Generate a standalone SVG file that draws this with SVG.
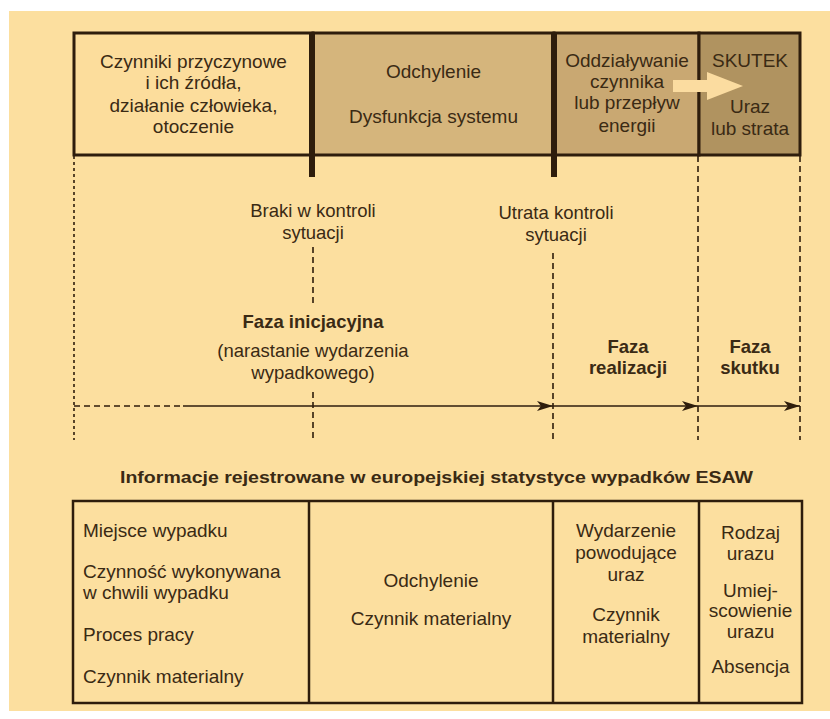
<svg xmlns="http://www.w3.org/2000/svg" width="830" height="719" viewBox="0 0 830 719">
<defs>
<style>
.t{font-family:"Liberation Sans",Arial,Helvetica,sans-serif;font-size:19px;fill:#3a2a14;text-anchor:middle}
.l{text-anchor:start}
.b{font-weight:bold;font-size:18.5px}
.box{stroke:#2e1d0c;stroke-width:3}
.dash{fill:none;stroke:#2e1d0c;stroke-width:1.6;stroke-dasharray:6 4}
.dot{fill:none;stroke:#2e1d0c;stroke-width:1.6;stroke-dasharray:3 3}
.arr{fill:none;stroke:#2e1d0c;stroke-width:1.6;marker-end:url(#ah)}
.bar{fill:#2e1d0c}
.tbl{fill:none;stroke:#2e1d0c;stroke-width:2.5}
</style>
<marker id="ah" viewBox="0 0 16 10" refX="16" refY="5" markerWidth="16" markerHeight="10" markerUnits="userSpaceOnUse" orient="auto">
<path d="M0,0 L16,5 L0,10 L4,5 z" fill="#2e1d0c"/>
</marker>
</defs>
<rect x="0" y="0" width="830" height="719" fill="#ffffff"/>
<rect x="9" y="11" width="821" height="700" fill="#fcdf9f"/>

<g id="box-przyczyny">
<rect class="box" x="74" y="33" width="239" height="122" fill="#fcdd9c"/>
<text class="t" x="193.5" y="68">Czynniki przyczynowe</text>
<text class="t" x="193.5" y="89">i ich źródła,</text>
<text class="t" x="193.5" y="112">działanie człowieka,</text>
<text class="t" x="193.5" y="133">otoczenie</text>
</g>
<g id="box-odchylenie">
<rect class="box" x="313" y="33" width="241" height="122" fill="#d5b57c"/>
<text class="t" x="433.5" y="78">Odchylenie</text>
<text class="t" x="433.5" y="123">Dysfunkcja systemu</text>
</g>
<g id="box-oddzialywanie">
<rect class="box" x="554" y="33" width="145" height="122" fill="#c9a872"/>
<text class="t" x="627" y="67">Oddziaływanie</text>
<text class="t" x="627" y="88">czynnika</text>
<text class="t" x="627" y="109">lub przepływ</text>
<text class="t" x="627" y="132">energii</text>
</g>
<g id="box-skutek">
<rect class="box" x="699" y="33" width="101" height="122" fill="#b09360"/>
<text class="t" x="750" y="67">SKUTEK</text>
<text class="t" x="750" y="113">Uraz</text>
<text class="t" x="750" y="135">lub strata</text>
</g>
<g id="big-arrow">
<path d="M673,80 L707,80 L707,72 L743,86 L707,100 L707,92 L673,92 z" fill="#fbdca0"/>
</g>
<g id="bars">
<rect class="bar" x="309" y="33" width="6" height="144"/>
<rect class="bar" x="551" y="33" width="6" height="144"/>
</g>

<g id="connectors">
<line class="dot" x1="74" y1="156" x2="74" y2="440"/>
<line class="dash" x1="313" y1="247" x2="313" y2="304"/>
<line class="dash" x1="313" y1="392" x2="313" y2="440"/>
<line class="dash" x1="553" y1="253" x2="553" y2="440"/>
<line class="dash" x1="698" y1="156" x2="698" y2="440"/>
<line class="dash" x1="800" y1="156" x2="800" y2="440"/>
<line class="dash" x1="74" y1="406" x2="183" y2="406"/>
<line class="arr" x1="183" y1="406" x2="553" y2="406"/>
<line class="arr" x1="553" y1="406" x2="698" y2="406"/>
<line class="arr" x1="698" y1="406" x2="800" y2="406"/>
</g>

<g id="label-braki">
<text class="t" x="313" y="217" style="font-size:18.5px">Braki w kontroli</text>
<text class="t" x="313" y="239" style="font-size:18.5px">sytuacji</text>
</g>
<g id="label-utrata">
<text class="t" x="556" y="219" style="font-size:18.5px">Utrata kontroli</text>
<text class="t" x="556" y="241" style="font-size:18.5px">sytuacji</text>
</g>
<g id="faza-inicjacyjna">
<text class="t b" x="313" y="328">Faza inicjacyjna</text>
<text class="t" x="313" y="357" style="font-size:18.5px">(narastanie wydarzenia</text>
<text class="t" x="313" y="379" style="font-size:18.5px">wypadkowego)</text>
</g>
<g id="faza-realizacji">
<text class="t b" x="628" y="353">Faza</text>
<text class="t b" x="628" y="374">realizacji</text>
</g>
<g id="faza-skutku">
<text class="t b" x="750" y="353">Faza</text>
<text class="t b" x="750" y="374">skutku</text>
</g>

<g id="title">
<text class="t b" x="436.5" y="483" textLength="633" lengthAdjust="spacingAndGlyphs" style="font-size:16px">Informacje rejestrowane w europejskiej statystyce wypadków ESAW</text>
</g>

<g id="table">
<rect class="tbl" x="73" y="501" width="729" height="202" fill="#fcdf9f"/>
<line class="tbl" x1="309" y1="501" x2="309" y2="703"/>
<line class="tbl" x1="553" y1="501" x2="553" y2="703"/>
<line class="tbl" x1="699" y1="501" x2="699" y2="703"/>
</g>
<g id="col-1">
<text class="t l" x="83" y="537">Miejsce wypadku</text>
<text class="t l" x="83" y="578">Czynność wykonywana</text>
<text class="t l" x="83" y="599">w chwili wypadku</text>
<text class="t l" x="83" y="641">Proces pracy</text>
<text class="t l" x="83" y="683">Czynnik materialny</text>
</g>
<g id="col-2">
<text class="t" x="431" y="587">Odchylenie</text>
<text class="t" x="431" y="625">Czynnik materialny</text>
</g>
<g id="col-3">
<text class="t" x="626" y="537">Wydarzenie</text>
<text class="t" x="626" y="559">powodujące</text>
<text class="t" x="626" y="581">uraz</text>
<text class="t" x="626" y="621">Czynnik</text>
<text class="t" x="626" y="643">materialny</text>
</g>
<g id="col-4">
<text class="t" x="750.5" y="539">Rodzaj</text>
<text class="t" x="750.5" y="560">urazu</text>
<text class="t" x="750.5" y="597">Umiej-</text>
<text class="t" x="750.5" y="617">scowienie</text>
<text class="t" x="750.5" y="638">urazu</text>
<text class="t" x="750.5" y="673">Absencja</text>
</g>
</svg>
